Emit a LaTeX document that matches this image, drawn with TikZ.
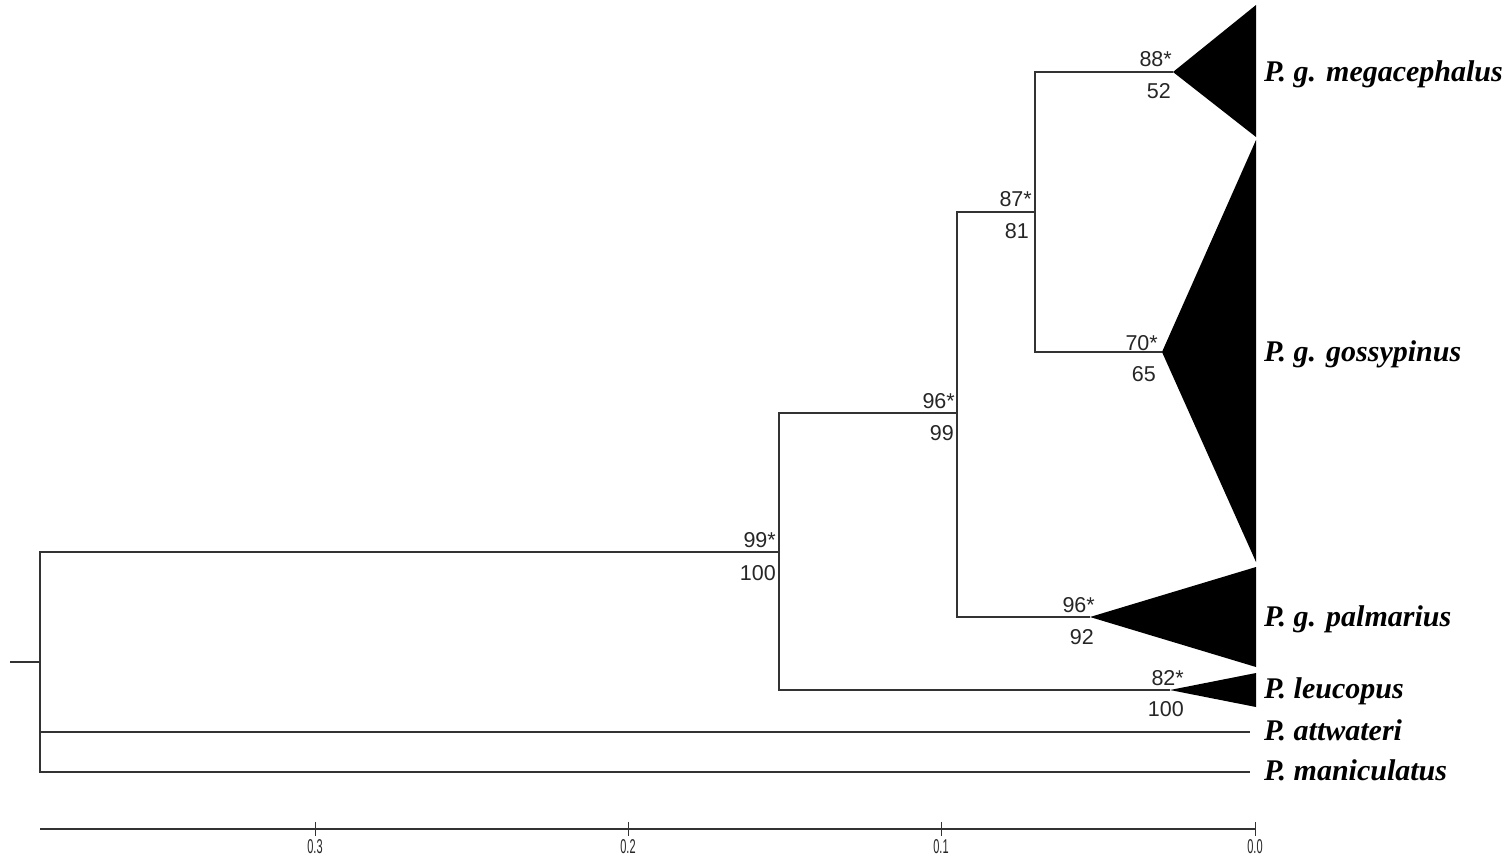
\documentclass[tikz,border=0pt]{standalone}
\usepackage{fontspec}
\setmainfont{Liberation Serif}
\newfontfamily\numfont{Liberation Sans}
\begin{document}
\begin{tikzpicture}[x=1pt,y=-1pt,
  br/.style={draw=black!80, line width=1.6pt},
  clade/.style={fill=black},
  bs/.style={font=\numfont\fontsize{21.5}{21.5}\selectfont, inner sep=0pt, anchor=base east, text=black!85},
  taxon/.style={font=\bfseries\itshape\fontsize{30}{30}\selectfont, inner sep=0pt, anchor=base west},
  ticklab/.style={font=\numfont\fontsize{20}{20}\selectfont, inner sep=0pt, text=black!85}]
\useasboundingbox (0,0) rectangle (1509,857);
% tree nodes
\coordinate (stub) at (10,662);
\coordinate (root) at (40,662);
\coordinate (n1) at (779,552);
\coordinate (n2) at (957,413);
\coordinate (n3) at (1035,212);
\coordinate (ameg) at (1173,72);
\coordinate (agos) at (1162,352);
\coordinate (apal) at (1090,617);
\coordinate (aleu) at (1170,690);
\coordinate (tatt) at (1250,732);
\coordinate (tman) at (1250,772);
% branches
\draw[br] (stub) -- (root);
\draw[br] (root) |- (n1);
\draw[br] (root) |- (tatt);
\draw[br] (root) |- (tman);
\draw[br] (n1) |- (n2);
\draw[br] (n1) |- (aleu);
\draw[br] (n2) |- (n3);
\draw[br] (n2) |- (apal);
\draw[br] (n3) |- (ameg);
\draw[br] (n3) |- (agos);
% collapsed clades
\fill[clade] (ameg) -- (1256,5) -- (1256,137) -- cycle;
\fill[clade] (agos) -- (1256,140) -- (1256,562) -- cycle;
\fill[clade] (apal) -- (1256,567) -- (1256,667) -- cycle;
\fill[clade] (aleu) -- (1256,673) -- (1256,707) -- cycle;
% taxon labels
\node[taxon] (lmeg) at (1264,81) {P. g. megacephalus};
\node[taxon] (lgos) at (1264,361) {P. g. gossypinus};
\node[taxon] (lpal) at (1264,626) {P. g. palmarius};
\node[taxon] (lleu) at (1264,698) {P. leucopus};
\node[taxon] (latt) at (1264,740) {P. attwateri};
\node[taxon] (lman) at (1264,780) {P. maniculatus};
% support values
\node[bs] (b1a) at (776,547) {99*};
\node[bs] (b1b) at (776,580) {100};
\node[bs] (b2a) at (955,408) {96*};
\node[bs] (b2b) at (954,440) {99};
\node[bs] (b3a) at (1032,206) {87*};
\node[bs] (b3b) at (1029,238) {81};
\node[bs] (b4a) at (1172,66) {88*};
\node[bs] (b4b) at (1171,98) {52};
\node[bs] (b5a) at (1158,350) {70*};
\node[bs] (b5b) at (1156,381) {65};
\node[bs] (b6a) at (1095,612) {96*};
\node[bs] (b6b) at (1094,644) {92};
\node[bs] (b7a) at (1184,685) {82*};
\node[bs] (b7b) at (1184,716) {100};
% scale axis
\coordinate (ax0) at (40,829);
\coordinate (ax1) at (1255,829);
\draw[br, line width=1.4pt] (ax0) -- (ax1);
\foreach \xx/\lab in {315/0.3, 628/0.2, 941/0.1, 1255/0.0}{
  \draw[draw=black!80, line width=1pt] (\xx,822) -- (\xx,836);
  \node[ticklab] at (\xx,847) {\scalebox{0.55}[1]{\lab}};
}
\end{tikzpicture}
\end{document}
